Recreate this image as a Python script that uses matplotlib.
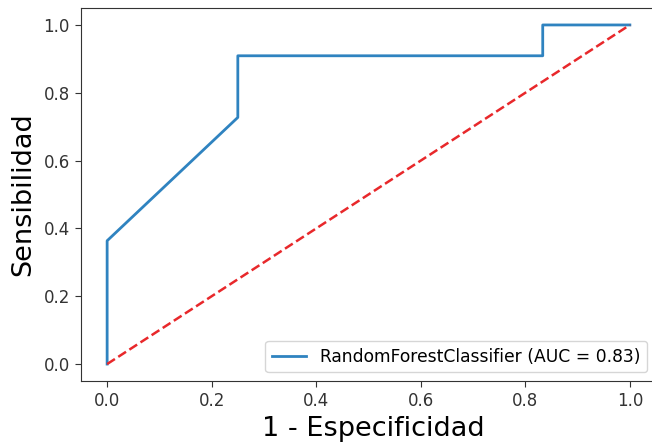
import matplotlib
matplotlib.use("Agg")
import matplotlib.pyplot as plt

fpr = [0.0, 0.0, 0.25, 0.25, 0.8333, 0.8333, 1.0]
tpr = [0.0, 0.3636, 0.7273, 0.9091, 0.9091, 1.0, 1.0]
chance_x = [0, 1]
chance_y = [0, 1]
label = "RandomForestClassifier (AUC = 0.83)"

fig = plt.figure(figsize=(6.52, 4.46), dpi=100)
ax = fig.add_axes([81/652, 1-381/446, 585/652, 373/446])
ax.plot(fpr, tpr, color="#2f83c0", lw=2, label=label)
ax.plot(chance_x, chance_y, "--", color="#e8282b", lw=1.8)
ax.set_xlim(-0.05, 1.05 + 10/523)
ax.set_ylim(-0.05, 1.05)
ax.set_xticks([0, 0.2, 0.4, 0.6, 0.8, 1.0])
ax.set_yticks([0, 0.2, 0.4, 0.6, 0.8, 1.0])
ax.tick_params(labelsize=12, colors="#333333", length=4.5)
for s in ax.spines.values():
    s.set_color("#333333")
ax.set_xlabel("1 - Especificidad", fontsize=19.5, labelpad=4)
ax.set_ylabel("Sensibilidad", fontsize=19.5, labelpad=5)
ax.legend(loc="lower right", fontsize=12.3, bbox_to_anchor=(1 - 10/585, 0))
fig.savefig("out.png", dpi=100)
